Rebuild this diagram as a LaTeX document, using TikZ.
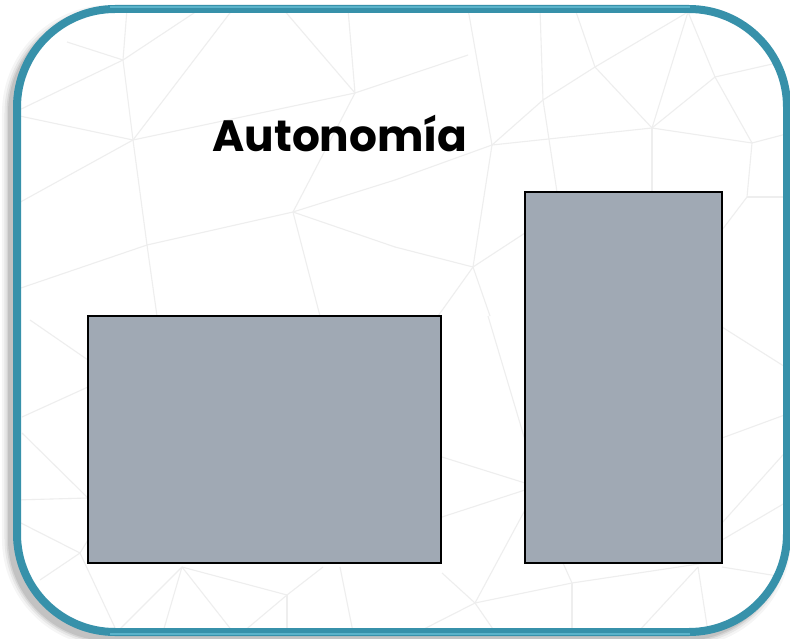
\documentclass[tikz,border=0pt]{standalone}
\usepackage{fontspec}
\setmainfont{Poppins}
\definecolor{bglinec}{RGB}{238,238,238}
\definecolor{framec}{RGB}{55,145,170}
\definecolor{framehi}{RGB}{115,202,224}
\definecolor{blockc}{RGB}{160,169,180}
\begin{document}
\begin{tikzpicture}[x=1bp,y=-1bp,
  bgline/.style={draw=bglinec,line width=1.1bp},
  framebd/.style={draw=framec,line width=8bp,rounded corners=98bp},
  block/.style={draw=black,line width=2.4bp,fill=blockc,inner sep=0pt,minimum width=#1},
  titletext/.style={font=\fontsize{44}{50}\selectfont\bfseries,text=black,inner sep=0pt}]
\useasboundingbox (0,0) rectangle (790,639);
% shadow
\foreach \w/\o in {20/0.04,15/0.06,11/0.08,8/0.09}{
  \draw[line width=\w bp,draw=black,opacity=\o,rounded corners=98bp] (12,15) rectangle (781,637);
}
% frame fill
\fill[white,rounded corners=98bp] (17,9) rectangle (787,632);
% background triangle lines
\begin{scope}
\clip[rounded corners=98bp] (17,9) rectangle (787,632);
\foreach \a/\b in {
 {67,42}/{123,60},{123,60}/{127,9},{123,60}/{200,9},{123,60}/{15,112},{123,60}/{133,140},
 {133,140}/{15,115},{133,140}/{355,93},{133,140}/{15,205},{133,140}/{147,245},{133,140}/{233,9},
 {355,93}/{283,9},{355,93}/{348,9},{355,93}/{468,55},{355,93}/{293,212},
 {293,212}/{147,245},{293,212}/{395,180},{293,212}/{320,316},{293,212}/{395,247},
 {147,245}/{15,290},{147,245}/{157,316},
 {395,180}/{492,145},{492,145}/{468,9},{492,145}/{543,100},{492,145}/{652,128},{492,145}/{473,267},
 {543,100}/{595,67},{543,100}/{557,192},{543,100}/{540,9},
 {595,67}/{575,9},{595,67}/{688,12},{595,67}/{652,128},
 {688,12}/{652,128},{688,12}/{715,77},{652,128}/{715,77},{652,128}/{752,143},{652,128}/{652,192},
 {715,77}/{752,143},{715,77}/{790,60},{752,143}/{790,133},{752,143}/{747,197},
 {747,197}/{790,197},{747,197}/{722,230},
 {395,247}/{473,267},{473,267}/{438,316},{473,267}/{525,233},{473,267}/{490,316},
 {22,417}/{88,387},{30,320}/{88,360},{22,433}/{88,498},{15,500}/{88,498},
 {15,520}/{80,553},{80,553}/{88,540},{80,553}/{40,580},{80,553}/{117,632},
 {182,567}/{117,632},{182,567}/{163,632},{182,567}/{287,595},{182,567}/{233,632},
 {287,595}/{323,567},{287,595}/{243,632},{287,595}/{287,632},{340,567}/{353,632},
 {475,603}/{442,573},{475,603}/{525,510},{475,603}/{418,632},{475,603}/{495,632},{475,603}/{572,583},
 {572,583}/{563,563},{572,583}/{705,563},{572,583}/{572,632},
 {442,457}/{525,483},{442,517}/{525,490},{488,316}/{525,440},
 {722,327}/{790,370},{722,438}/{790,413},{722,523}/{790,447},{722,540}/{790,500},
 {722,567}/{790,578},{698,567}/{708,632},{698,567}/{638,632}}{
  \draw[bgline] (\a) -- (\b);
}
\end{scope}
% frame border
\draw[framebd] (17,9) rectangle (787,632);
\draw[draw=framehi,line width=2bp,opacity=0.6] (110,7) -- (690,7);
\draw[draw=framehi,line width=2bp,opacity=0.6] (110,634) -- (690,634);
% title
\node[titletext] (title) at (340,133) {Autonomía};
% blocks
\node[block=353bp,minimum height=247bp] (leftbox) at (264.5,439.5) {};
\node[block=197bp,minimum height=371bp] (rightbox) at (623.5,377.5) {};
\end{tikzpicture}
\end{document}
